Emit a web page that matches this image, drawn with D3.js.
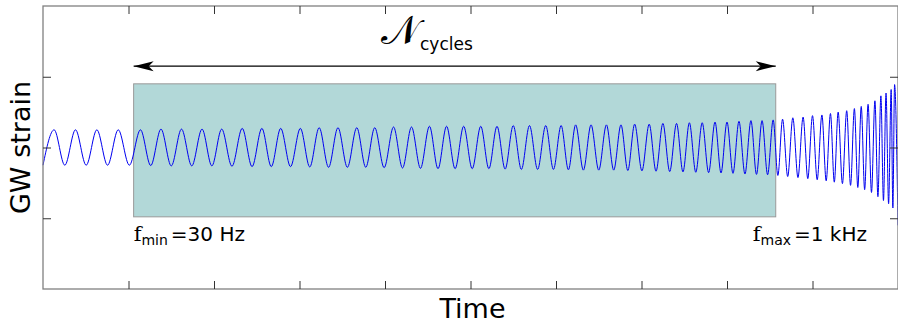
<!DOCTYPE html>
<html>
<head>
<meta charset="utf-8">
<script src="https://cdn.jsdelivr.net/npm/d3@7"></script>
<style>
    body { margin: 0; background: #fff; }
    text { font-family: "DejaVu Sans", sans-serif; fill: #000; }
</style>
</head>
<body>
<div id="chart"></div>
<script>
// crest times of the chirp (time axis runs 0..10) and the crest height
var crestTimes = [0.13, 0.38, 0.63, 0.88, 1.14, 1.38, 1.62, 1.86, 2.09, 2.33,
    2.56, 2.78, 3.01, 3.23, 3.45, 3.67, 3.88, 4.10, 4.31, 4.52,
    4.72, 4.92, 5.12, 5.31, 5.50, 5.69, 5.88, 6.06, 6.23, 6.41,
    6.59, 6.76, 6.92, 7.09, 7.25, 7.41, 7.56, 7.71, 7.86, 8.00,
    8.14, 8.28, 8.41, 8.54, 8.65, 8.77, 8.89, 9.00, 9.11, 9.21,
    9.30, 9.40, 9.49, 9.57, 9.65, 9.73, 9.80, 9.86, 9.92, 9.96];
var crestAmps = [0.25, 0.25, 0.25, 0.25, 0.25, 0.26, 0.26, 0.26, 0.26, 0.27,
    0.27, 0.27, 0.27, 0.28, 0.28, 0.28, 0.28, 0.29, 0.29, 0.30,
    0.30, 0.30, 0.30, 0.30, 0.31, 0.31, 0.31, 0.31, 0.32, 0.32,
    0.32, 0.32, 0.33, 0.33, 0.34, 0.34, 0.35, 0.35, 0.36, 0.36,
    0.37, 0.38, 0.38, 0.39, 0.40, 0.42, 0.43, 0.45, 0.46, 0.48,
    0.50, 0.52, 0.55, 0.58, 0.61, 0.66, 0.73, 0.77, 0.82, 0.89];
var waveStart = [0, -0.25];
var waveEnd = [10, -1.1];

var xTicks = [1, 2, 3, 4, 5, 6, 7, 8, 9];
var yTicks = [-1, 0, 1];

// window of the band that is counted
var bandTimes = [1.06, 8.57];
var bandStrain = [-0.98, 0.9];
var arrowStrain = 1.15;
var bandLabels = [
    { f: "f", sub: "min", rest: "=30 Hz" },
    { f: "f", sub: "max", rest: "=1 kHz" }
];

var width = 898;
var height = 323;
var margin = { top: 6, right: 0, bottom: 34, left: 43 };

var svg = d3.select("#chart")
    .append("svg")
    .attr("width", width)
    .attr("height", height);

var x = d3.scaleLinear()
    .domain([0, 10])
    .range([margin.left, width - margin.right]);

var y = d3.scaleLinear()
    .domain([-2, 2])
    .range([height - margin.bottom, margin.top]);

// box behind the wave
svg.append("rect")
    .attr("x", x(bandTimes[0]))
    .attr("y", y(bandStrain[1]))
    .attr("width", x(bandTimes[1]) - x(bandTimes[0]))
    .attr("height", y(bandStrain[0]) - y(bandStrain[1]))
    .style("fill", "#b2d8d8")
    .style("stroke", "#999")
    .style("stroke-width", 1);

// crests and the troughs half way between them
var points = [waveStart];
crestTimes.forEach(function (t, i) {
    points.push([t, crestAmps[i]]);
    if (i < crestTimes.length - 1) {
        points.push([(t + crestTimes[i + 1]) / 2, -(crestAmps[i] + crestAmps[i + 1]) / 2]);
    }
});
points.push(waveEnd);

var line = d3.line()
    .x(function (d) { return x(d[0]); })
    .y(function (d) { return y(d[1]); })
    .curve(d3.curveMonotoneX);

svg.append("path")
    .datum(points)
    .attr("d", line)
    .style("fill", "none")
    .style("stroke", "#0000f0")
    .style("stroke-width", 1);

// frame
svg.append("rect")
    .attr("x", x(0))
    .attr("y", y(2))
    .attr("width", x(10) - x(0))
    .attr("height", y(-2) - y(2))
    .style("fill", "none")
    .style("stroke", "#808080")
    .style("stroke-width", 1.3);

// ticks pointing inwards on all four sides
var tickLen = 8;
var axes = [
    d3.axisBottom(x).tickValues(xTicks).tickSizeInner(-tickLen).tickSizeOuter(0).tickFormat(""),
    d3.axisTop(x).tickValues(xTicks).tickSizeInner(-tickLen).tickSizeOuter(0).tickFormat(""),
    d3.axisLeft(y).tickValues(yTicks).tickSizeInner(-tickLen).tickSizeOuter(0).tickFormat(""),
    d3.axisRight(y).tickValues(yTicks).tickSizeInner(-tickLen).tickSizeOuter(0).tickFormat("")
];
var shifts = ["translate(0," + y(-2) + ")", "translate(0," + y(2) + ")",
    "translate(" + x(0) + ",0)", "translate(" + x(10) + ",0)"];
axes.forEach(function (ax, i) {
    var g = svg.append("g").attr("transform", shifts[i]).call(ax);
    g.select(".domain").remove();
    g.selectAll(".tick line").style("stroke", "#333").style("stroke-width", 1);
});

// double arrow
var defs = svg.append("defs");
defs.append("marker")
    .attr("id", "head")
    .attr("markerUnits", "userSpaceOnUse")
    .attr("viewBox", "-21 -6 22 12")
    .attr("refX", 0)
    .attr("refY", 0)
    .attr("markerWidth", 22)
    .attr("markerHeight", 12)
    .attr("orient", "auto-start-reverse")
    .append("path")
    .attr("d", "M0,0 L-20,-5 L-15,0 L-20,5 Z")
    .style("fill", "#000");

svg.append("line")
    .attr("x1", x(bandTimes[0]))
    .attr("x2", x(bandTimes[1]))
    .attr("y1", y(arrowStrain))
    .attr("y2", y(arrowStrain))
    .style("stroke", "#000")
    .style("stroke-width", 1.2)
    .attr("marker-start", "url(#head)")
    .attr("marker-end", "url(#head)");

var nLabel = svg.append("text")
    .attr("x", 381)
    .attr("y", y(arrowStrain) - 22);
nLabel.append("tspan")
    .style("font-family", "'DejaVu Serif', 'DejaVu Sans', serif")
    .style("font-size", "40px")
    .text("\uD835\uDCA9");
nLabel.append("tspan")
    .attr("dy", 6)
    .attr("dx", 1)
    .style("font-size", "17px")
    .text("cycles");

// band edge labels
bandLabels.forEach(function (d, i) {
    var t = svg.append("text")
        .attr("x", x(bandTimes[i]) - (i === 1 ? 23 : 0))
        .attr("y", y(bandStrain[0]) + 24);
    t.append("tspan")
        .style("font-family", "'DejaVu Serif', serif")
        .style("font-size", "21px")
        .text(d.f);
    t.append("tspan")
        .attr("dy", 4)
        .style("font-size", "14px")
        .text(d.sub);
    t.append("tspan")
        .attr("dy", -4)
        .attr("dx", 3)
        .style("font-size", "20px")
        .text(d.rest);
});

// axis titles
svg.append("text")
    .attr("x", (x(0) + x(10)) / 2 + 2)
    .attr("y", height - 5)
    .attr("text-anchor", "middle")
    .style("font-size", "27px")
    .text("Time");

svg.append("text")
    .attr("transform", "translate(30," + y(0) + ") rotate(-90)")
    .attr("text-anchor", "middle")
    .style("font-size", "27px")
    .text("GW strain");
</script>
</body>
</html>
